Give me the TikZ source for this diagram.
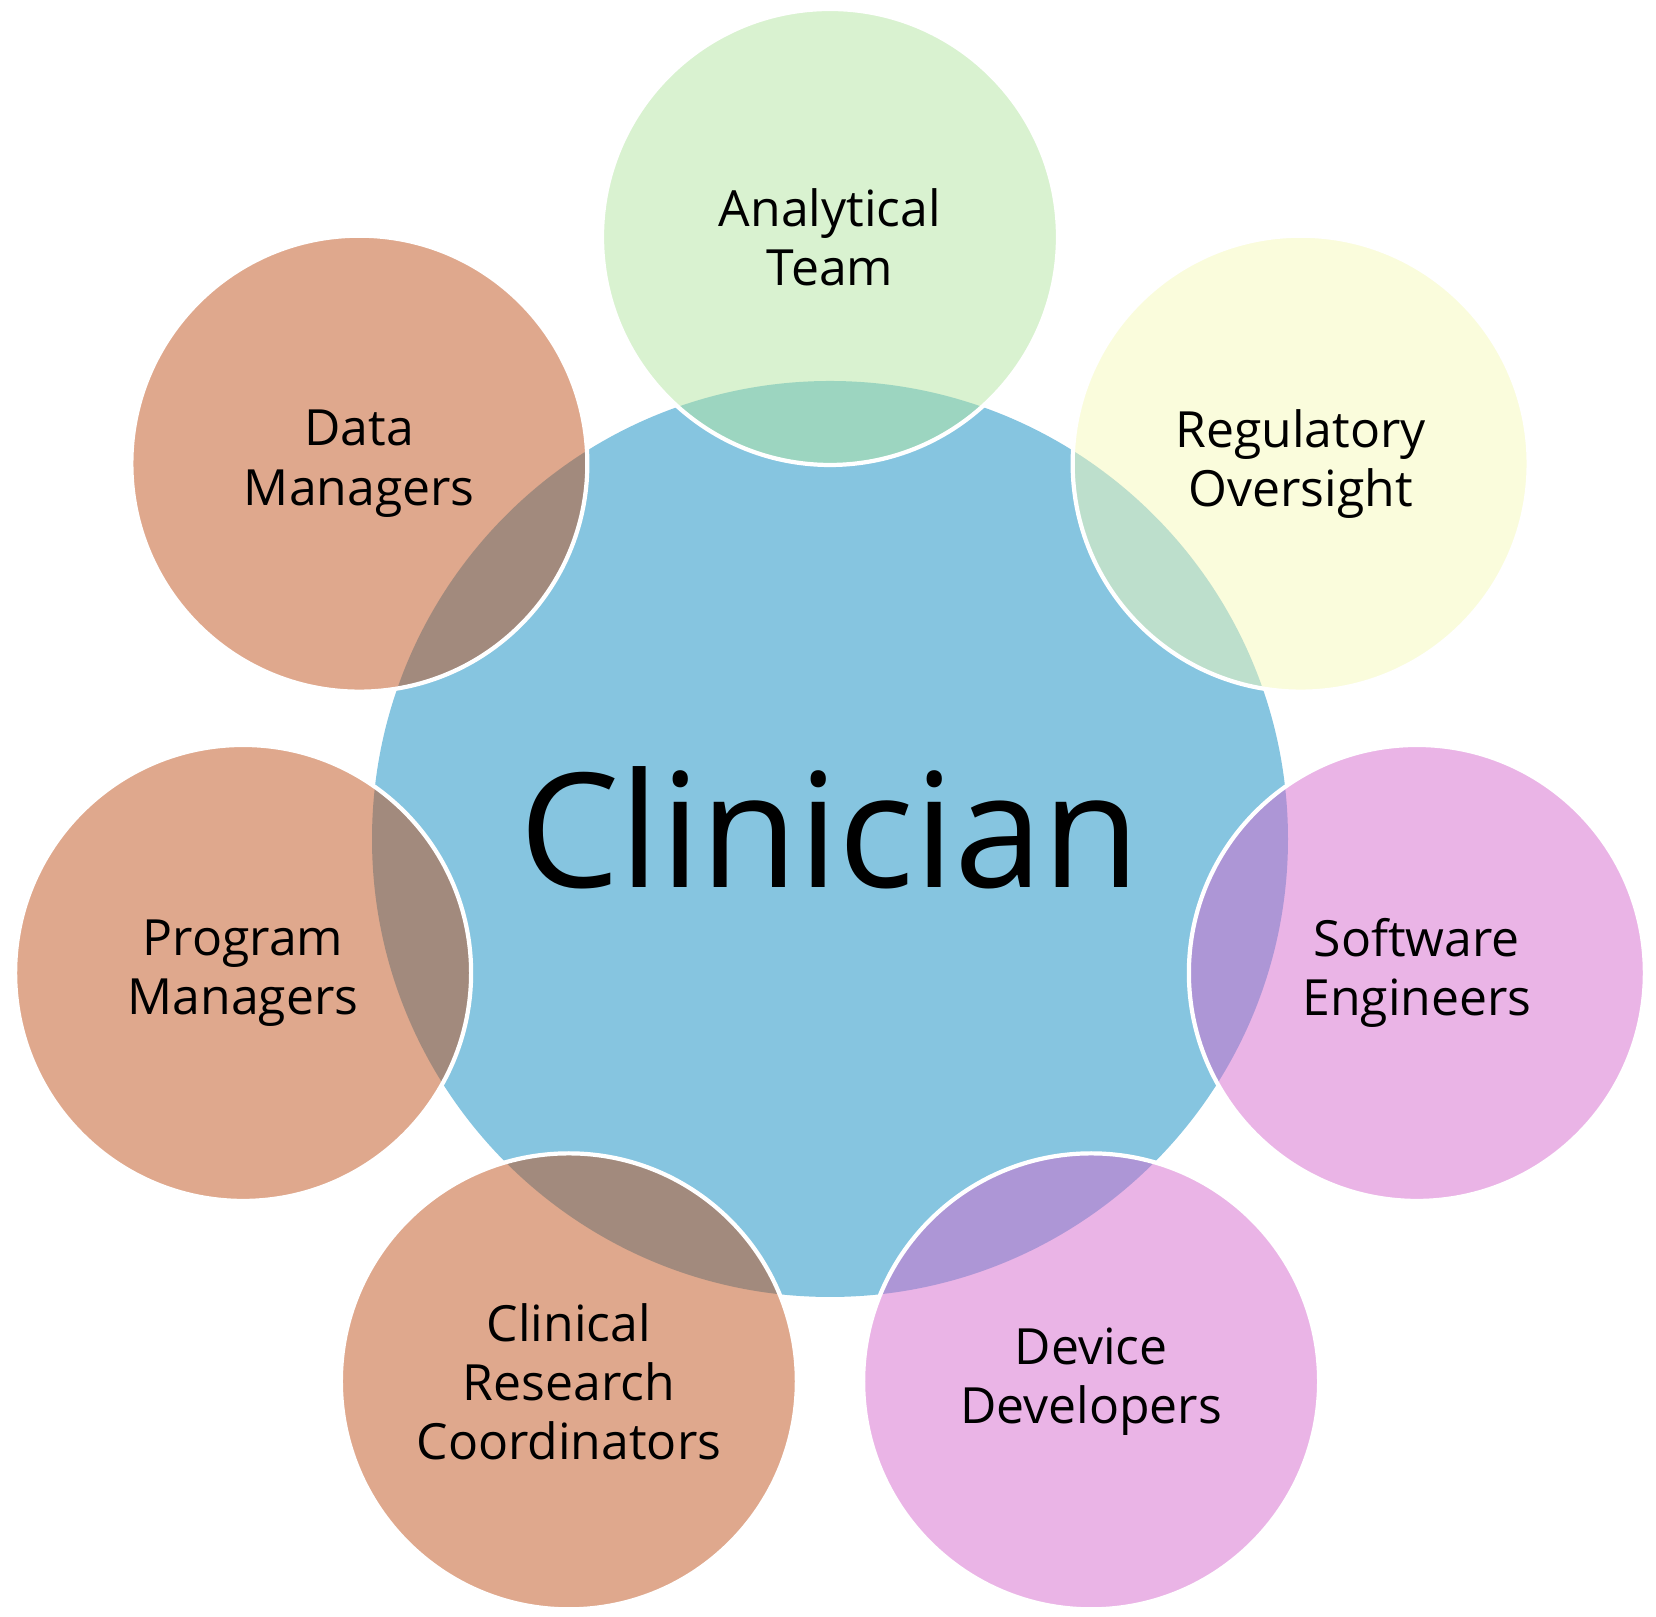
\documentclass[tikz,border=0pt]{standalone}
\usepackage{fontspec}
\setmainfont{Open Sans}
\definecolor{clinblue}{RGB}{134,197,224}
\definecolor{teamgreen}{RGB}{179,229,161}
\definecolor{regyellow}{RGB}{245,249,185}
\definecolor{devpink}{RGB}{213,105,205}
\definecolor{mgrtan}{RGB}{191,81,27}
\begin{document}
\begin{tikzpicture}[every node/.style={font=\fontsize{14.2}{16.8}\selectfont, align=center},
    member/.style={circle, draw=white, line width=1.2pt, fill opacity=0.5,
        text opacity=1, minimum size=4.56cm, inner sep=0pt}]
    \useasboundingbox (0,0) rectangle (16.56,16.17);

    % Large circle in the middle, the word sits a little above its centre
    \node[circle, fill=clinblue, minimum size=9.16cm, inner sep=0pt,
        text height=0.98cm, text depth=0pt,
        font=\fontsize{45.3}{52}\selectfont] (clin) at (8.30,7.78) {Clinician};

    % Seven half-transparent circles, evenly spaced round the middle one
    \def\d{6.02}
    \foreach \a/\c/\n/\t in {
        90/teamgreen/team/{Analytical\\Team},
        38.57/regyellow/reg/{Regulatory\\Oversight},
        347.14/devpink/soft/{Software\\Engineers},
        295.71/devpink/dev/{Device\\Developers},
        244.29/mgrtan/crc/{Clinical\\Research\\Coordinators},
        192.86/mgrtan/prog/{Program\\Managers},
        141.43/mgrtan/data/{Data\\Managers}%
    }{%
        \node[member, fill=\c] (\n) at ([shift={(\a:\d)}]clin.center) {\t};
    }
\end{tikzpicture}
\end{document}
